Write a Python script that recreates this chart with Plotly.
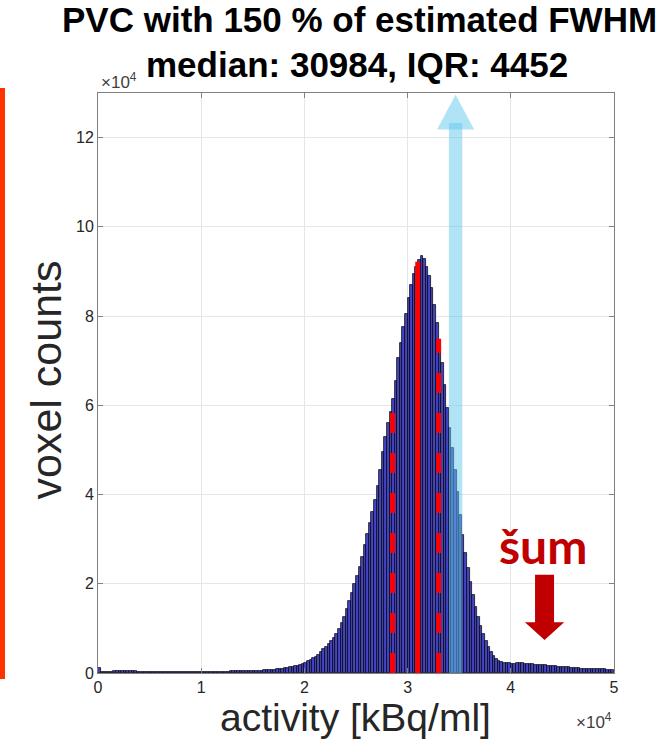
import plotly.graph_objects as go

# ---------------- data ----------------
bin_width = 250
bin_start = 0
counts = [
    1100, 200, 220, 250, 280, 320, 380, 450, 520, 550, 520, 470, 420, 380, 340, 310, 290, 270, 260, 250,
    250, 245, 240, 240, 235, 235, 230, 230, 230, 230, 230, 235, 235, 240, 240, 245, 250, 255, 260, 265,
    270, 275, 280, 285, 290, 295, 300, 305, 310, 320, 330, 340, 350, 360, 370, 385, 400, 415, 430, 450,
    470, 490, 510, 540, 570, 600, 640, 680, 730, 790, 860, 940, 1030, 1130, 1240, 1370, 1510, 1670, 1850, 2050,
    2300, 2600, 2950, 3300, 3650, 4100, 4650, 5300, 5900, 6500, 7100, 7800, 8700, 9900, 11200, 12600, 14300, 16100, 18000, 20000,
    21800, 23700, 26000, 28600, 31200, 33600, 36000, 38800, 42000, 45500, 49500, 53000, 56000, 58500, 61500, 65500, 70500, 74000, 77500, 80500,
    84000, 87000, 89500, 91000, 92500, 93400, 92700, 91000, 89000, 86300, 82500, 78500, 74500, 69500, 64500, 59500, 55000, 50500, 45500, 40500,
    35500, 31000, 27000, 23500, 20500, 17500, 14800, 12500, 10500, 8800, 7200, 5800, 4600, 3700, 3100, 2700, 2450, 2300, 2200, 2150,
    2100, 2100, 2150, 2200, 2150, 2100, 2050, 2000, 1950, 1900, 1850, 1800, 1750, 1700, 1650, 1600, 1550, 1500, 1450, 1400,
    1350, 1300, 1250, 1200, 1150, 1100, 1050, 1000, 1000, 950, 950, 900, 900, 850, 850, 800, 800, 750, 750, 700,
]
bin_centers = [bin_start + bin_width * (i + 0.5) for i in range(len(counts))]

median_val = 30984
iqr_val = 4452
q1_val = 28550
q3_val = 33002
median_height = 92200
q1_height = 58800
q3_height = 74900

x_tickvals = [0, 10000, 20000, 30000, 40000, 50000]
x_ticktext = ["0", "1", "2", "3", "4", "5"]
y_tickvals = [0, 20000, 40000, 60000, 80000, 100000, 120000]
y_ticktext = ["0", "2", "4", "6", "8", "10", "12"]
x_range = [0, 50000]
y_range = [0, 130000]

title_line1 = "PVC with 150 % of estimated FWHM"
title_line2 = f"median: {median_val}, IQR: {iqr_val}"
x_label = "activity [kBq/ml]"
y_label = "voxel counts"
noise_label = "šum"
exponent_label = "×10<sup>4</sup>"

# blue arrow (annotation) parameters
blue_arrow_x = 34650
blue_shaft_half = 650
blue_head_half = 1800
blue_shaft_top = 123300
blue_head_base = 121800
blue_tip = 129600

# dark red arrow parameters
red_arrow_x = 43270
red_shaft_half = 920
red_head_half = 1900
red_shaft_top = 22000
red_head_base = 11400
red_tip = 7400
noise_text_x = 43100
noise_text_y = 28600

# ---------------- figure ----------------
fig = go.Figure()
fig.add_trace(go.Bar(
    x=bin_centers, y=counts, width=[bin_width] * len(counts),
    marker=dict(color="#4444C4", line=dict(color="rgba(0,0,0,0.9)", width=0.8)),
    showlegend=False, hoverinfo="skip",
))

# median and quartile lines
fig.add_trace(go.Scatter(x=[median_val, median_val], y=[0, median_height], mode="lines",
                         line=dict(color="#FF0000", width=5), showlegend=False, hoverinfo="skip"))
for qx, qh in [(q1_val, q1_height), (q3_val, q3_height)]:
    fig.add_trace(go.Scatter(x=[qx, qx], y=[0, qh], mode="lines",
                             line=dict(color="#FF0000", width=5, dash="20px,20px"),
                             showlegend=False, hoverinfo="skip"))

shapes = []
# light blue arrow: shaft + head
shapes.append(dict(type="rect", xref="x", yref="y",
                   x0=blue_arrow_x - blue_shaft_half, x1=blue_arrow_x + blue_shaft_half,
                   y0=0, y1=blue_shaft_top, fillcolor="rgb(100,200,240)", opacity=0.5,
                   line=dict(width=0), layer="above"))
shapes.append(dict(type="path", xref="x", yref="y",
                   path=f"M {blue_arrow_x - blue_head_half},{blue_head_base} L {blue_arrow_x + blue_head_half},{blue_head_base} L {blue_arrow_x},{blue_tip} Z",
                   fillcolor="rgb(100,200,240)", opacity=0.5, line=dict(width=0), layer="above"))
# dark red arrow
shapes.append(dict(type="path", xref="x", yref="y",
                   path=(f"M {red_arrow_x - red_shaft_half},{red_shaft_top} "
                         f"L {red_arrow_x + red_shaft_half},{red_shaft_top} "
                         f"L {red_arrow_x + red_shaft_half},{red_head_base} "
                         f"L {red_arrow_x + red_head_half},{red_head_base} "
                         f"L {red_arrow_x},{red_tip} "
                         f"L {red_arrow_x - red_head_half},{red_head_base} "
                         f"L {red_arrow_x - red_shaft_half},{red_head_base} Z"),
                   fillcolor="#C00000", line=dict(width=0), layer="above"))
# orange bar at far left
shapes.append(dict(type="rect", xref="paper", yref="paper", xsizemode="pixel", xanchor=0,
                   x0=-98, x1=-93, y0=-0.0103, y1=1.0086,
                   fillcolor="#FF3300", line=dict(width=0), layer="above"))

annotations = [
    dict(text=f"<b>{title_line1}</b>", xref="paper", yref="paper", x=0.506, y=1.127,
         xanchor="center", yanchor="middle", showarrow=False,
         font=dict(family="Liberation Sans, Arial", size=35, color="#000000")),
    dict(text=f"<b>{title_line2}</b>", xref="paper", yref="paper", x=0.502, y=1.0485,
         xanchor="center", yanchor="middle", showarrow=False,
         font=dict(family="Liberation Sans, Arial", size=35, color="#000000")),
    dict(text=x_label, xref="paper", yref="paper", x=0.499, y=-0.076,
         xanchor="center", yanchor="middle", showarrow=False,
         font=dict(family="Liberation Sans, Arial", size=39, color="#262626")),
    dict(text=y_label, xref="paper", yref="paper", x=-0.10, y=0.505, textangle=-90,
         xanchor="center", yanchor="middle", showarrow=False,
         font=dict(family="Liberation Sans, Arial", size=43, color="#262626")),
    dict(text=exponent_label, xref="paper", yref="paper", x=0.002, y=1.021,
         xanchor="left", yanchor="middle", showarrow=False,
         font=dict(family="Liberation Sans, Arial", size=17, color="#404040")),
    dict(text=exponent_label, xref="paper", yref="paper", x=0.922, y=-0.082,
         xanchor="left", yanchor="middle", showarrow=False,
         font=dict(family="Liberation Sans, Arial", size=17, color="#404040")),
    dict(text=f"<b>{noise_label}</b>", xref="x", yref="y", x=noise_text_x, y=noise_text_y,
         xanchor="center", yanchor="middle", showarrow=False,
         font=dict(family="Lato, Open Sans", size=48, color="#C00000")),
]

axis_common = dict(showgrid=True, gridcolor="#E6E6E6", gridwidth=1,
                   showline=True, linecolor="#808080", linewidth=1, mirror="ticks",
                   ticks="inside", ticklen=5, tickcolor="#808080", zeroline=False,
                   tickfont=dict(family="Liberation Sans, Arial", size=16, color="#262626"))

fig.update_layout(
    width=665, height=754,
    margin=dict(l=98, r=51, t=93, b=81),
    paper_bgcolor="white", plot_bgcolor="white",
    bargap=0, shapes=shapes, annotations=annotations, showlegend=False,
    xaxis=dict(range=x_range, tickvals=x_tickvals, ticktext=x_ticktext, **axis_common),
    yaxis=dict(range=y_range, tickvals=y_tickvals, ticktext=y_ticktext, **axis_common),
)

fig.write_html("out.html")
